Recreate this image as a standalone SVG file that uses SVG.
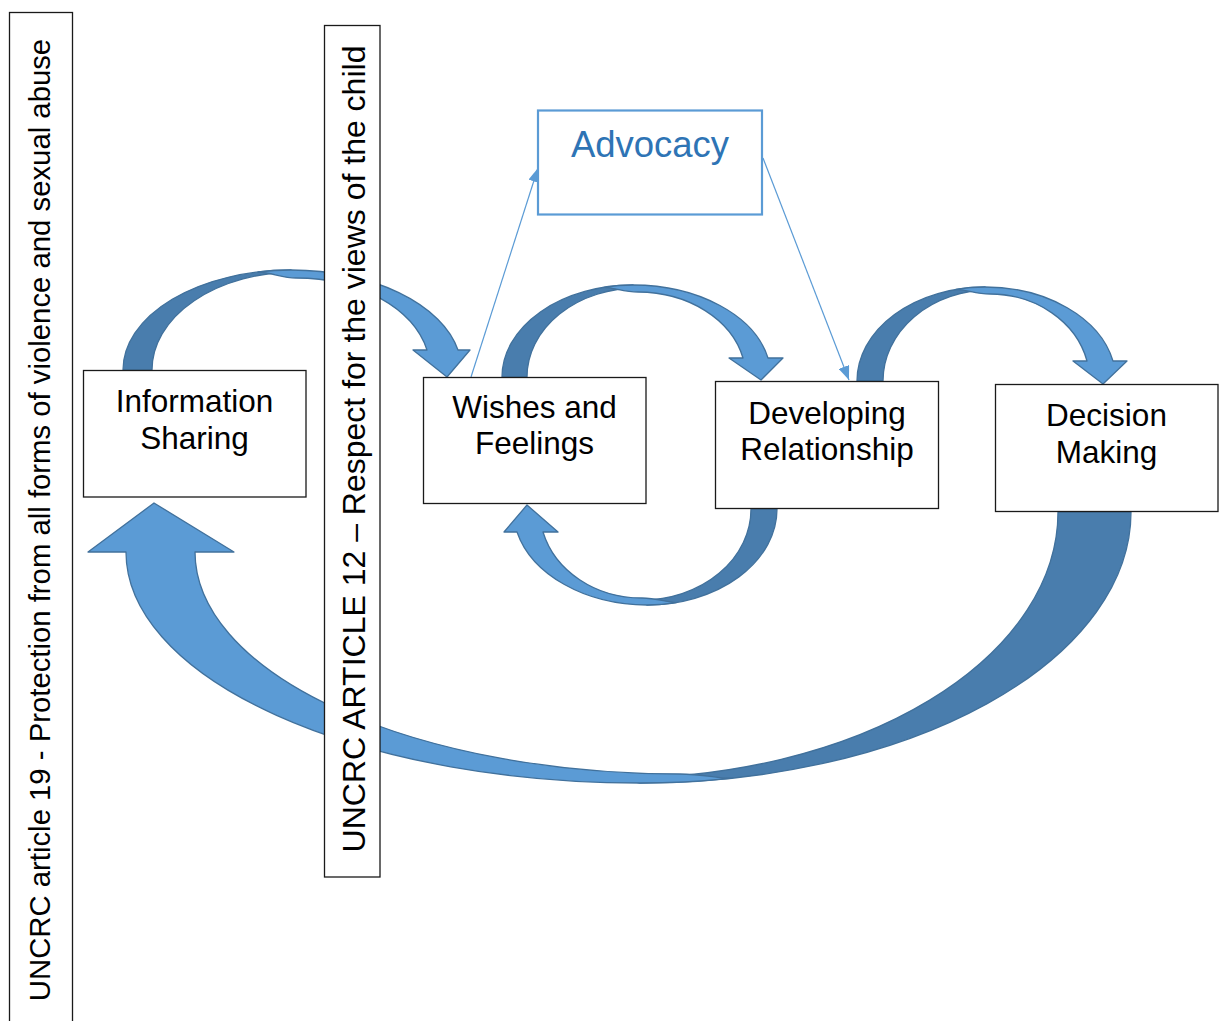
<svg xmlns="http://www.w3.org/2000/svg" width="1224" height="1021" viewBox="0 0 1224 1021">
<style>
.bg{fill:#ffffff}
.box{fill:#ffffff;stroke:#1a1a1a;stroke-width:1.3}
.adv{fill:#ffffff;stroke:#5B9BD5;stroke-width:2.2}
.lbl{font-family:"Liberation Sans",Arial,sans-serif;font-size:31.5px;fill:#000000;text-anchor:middle}
.advt{font-family:"Liberation Sans",Arial,sans-serif;font-size:36.5px;fill:#2E74B5;text-anchor:middle}
.vt{font-family:"Liberation Sans",Arial,sans-serif;fill:#000000;text-anchor:middle}
.dark{fill:#497DAD;stroke:#41719C;stroke-width:1.3;stroke-linejoin:round}
.light{fill:#5B9BD5;stroke:#41719C;stroke-width:1.3;stroke-linejoin:round}
.conn{fill:none;stroke:#5B9BD5;stroke-width:1.2}
</style>
<defs>
<marker id="ah" markerUnits="userSpaceOnUse" markerWidth="15" markerHeight="11" refX="14" refY="5.5" orient="auto">
<path d="M0,0 L14,5.5 L0,11 Z" fill="#5B9BD5"/>
</marker>
</defs>
<rect class="bg" x="0" y="0" width="1224" height="1021"/>

<g id="connectors">
<g id="curved-arrows">
<path class="dark" d="M123,370 A168,100 0 0 1 291,270 L296,272 A144,98 0 0 0 152,370 Z"/>
<path class="light" d="M258,272 Q274,270 291,270 A171,100 0 0 1 458,350 L470,350 L447,377 L413,350 L427,350 A134,92 0 0 0 296,278 C282,278 272,272.5 258,272 Z"/>
<path class="dark" d="M502,377 A131,92 0 0 1 633,285 L638,288 A111,89 0 0 0 527,377 Z"/>
<path class="light" d="M604,287.3 Q618,285 633,285 A138,92 0 0 1 768,358 L783,358 L761,380 L729,358 L743,358 A108,85 0 0 0 638,292 C624,292 614,287.5 604,287.3 Z"/>
<path class="dark" d="M857,381 A128,94 0 0 1 985,287 L990,290 A107,91 0 0 0 883,381 Z"/>
<path class="light" d="M956,289.4 Q970,287 985,287 A131,94 0 0 1 1113,361 L1127,361 L1103,384 L1073,361 L1087,361 A100,87 0 0 0 990,294 C976,294 966,289.5 956,289.4 Z"/>
<path class="dark" d="M777,509 A130,96 0 0 1 647,605 L642,600 A109,91 0 0 0 751,509 Z"/>
<path class="light" d="M676,602.6 Q662,605 647,605 A134,96 0 0 1 517,532 L504,532 L527,505 L558,532 L543,532 A102,89 0 0 0 642,598 C656,598 666,602 676,602.6 Z"/>
<path class="dark" d="M1131,512 A491,271 0 0 1 640,783 L620,778 A438,266 0 0 0 1058,512 Z"/>
<path class="light" d="M730,778.4 Q685,783 640,783 A514,231 0 0 1 126,552 L88,552 L154,503 L234,552 L195,552 A485,222 0 0 0 680,774 C700,774 715,777.5 730,778.4 Z"/>
</g>
<line class="conn" x1="471" y1="377" x2="538" y2="168" marker-end="url(#ah)"/>
<line class="conn" x1="763" y1="158" x2="849" y2="380" marker-end="url(#ah)"/>
</g>

<g id="article19">
<rect class="box" x="9.5" y="12.5" width="63" height="1020"/>
<text class="vt" font-size="29.3" transform="translate(50,520) rotate(-90)">UNCRC article 19 - Protection from all forms of violence and sexual abuse</text>
</g>

<g id="article12">
<rect class="box" x="324.5" y="25.5" width="55.5" height="851.5"/>
<text class="vt" font-size="32" transform="translate(365,449) rotate(-90)">UNCRC ARTICLE 12 – Respect for the views of the child</text>
</g>

<g id="information-sharing">
<rect class="box" x="83.5" y="370.5" width="222.5" height="126.5"/>
<text class="lbl" x="194.5" y="412">Information</text>
<text class="lbl" x="194.5" y="449">Sharing</text>
</g>

<g id="wishes-feelings">
<rect class="box" x="423.5" y="377.5" width="222.5" height="126"/>
<text class="lbl" x="534.5" y="418">Wishes and</text>
<text class="lbl" x="534.5" y="454">Feelings</text>
</g>

<g id="developing-relationship">
<rect class="box" x="715.5" y="381.5" width="223" height="127"/>
<text class="lbl" x="827" y="424">Developing</text>
<text class="lbl" x="827" y="460">Relationship</text>
</g>

<g id="decision-making">
<rect class="box" x="995.5" y="384.5" width="222.5" height="127"/>
<text class="lbl" x="1106.5" y="426">Decision</text>
<text class="lbl" x="1106.5" y="463">Making</text>
</g>

<g id="advocacy">
<rect class="adv" x="538" y="110.5" width="224" height="104"/>
<text class="advt" x="650" y="157">Advocacy</text>
</g>
</svg>
